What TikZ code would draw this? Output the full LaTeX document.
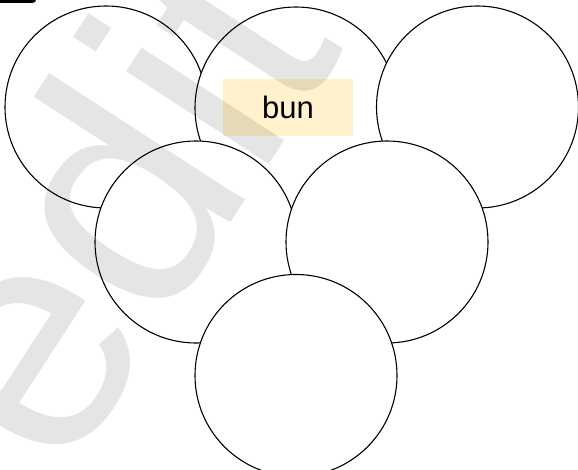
\documentclass[tikz,border=0pt]{standalone}
\usepackage{fontspec}
\setmainfont{Liberation Sans}
\definecolor{labelfill}{HTML}{FFF2CC}
\tikzset{
  ring/.style={circle, draw=black, fill=white, line width=1.1pt, minimum size=202pt, inner sep=0pt},
  labelbox/.style={rectangle, fill=labelfill, minimum width=130pt, minimum height=57pt, inner sep=0pt, font=\fontsize{31}{31}\selectfont},
  mark wm/.style={text=black, opacity=0.1, font=\fontsize{322}{322}\selectfont, inner sep=0pt},
}
\begin{document}
\begin{tikzpicture}[x=1pt,y=-1pt]
\useasboundingbox (0,0) rectangle (578,470);
\clip (0,0) rectangle (578,470);
\fill[white] (0,0) rectangle (578,470);
% cut-off dark element at top left
\fill[black, rounded corners=3pt] (-10,-10) rectangle (36,2.8);
% circles
\node[ring] (tl) at (106,107) {};
\node[ring] (tm) at (296,108) {};
\node[ring] (tr) at (477.5,107) {};
\node[ring] (ml) at (196,242) {};
\node[ring] (mr) at (387,242) {};
\node[ring] (bc) at (296,375.5) {};
% label
\node[labelbox] (lbl) at (288,107.5) {bun};
% watermark
\node[mark wm, anchor=base west, rotate=57] (wm) at (62,483) {edit};
\end{tikzpicture}
\end{document}
